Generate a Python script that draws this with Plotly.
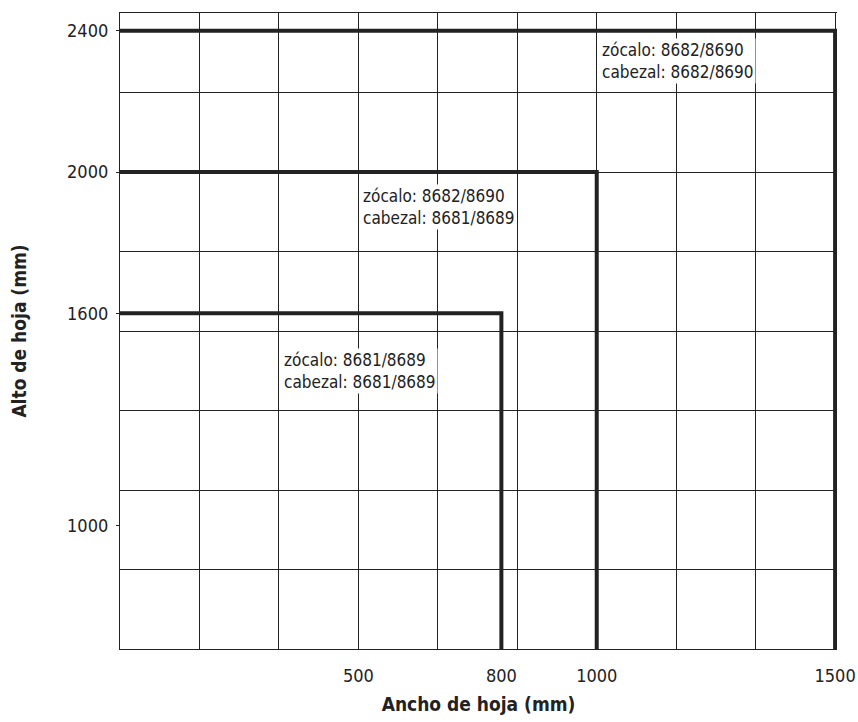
import plotly.graph_objects as go

# leaf sizes (mm) and the hardware codes for each
anchos = [800, 1000, 1500]
altos = [1600, 2000, 2400]
zocalo = ["8681/8689", "8682/8690", "8682/8690"]
cabezal = ["8681/8689", "8681/8689", "8682/8690"]

x_ticks = [500, 800, 1000, 1500]
y_ticks = [1000, 1600, 2000, 2400]

# axis layout
x_range = [0, 1504]
y_range = [650, 2450]
grid_x = 1500 / 9
grid_y = 225

# where the text boxes sit (data units)
label_x = [1500 / 9 * 2, 500, 1000]
label_y = [1438, 1900, 2313]

FONT = "DejaVu Sans Condensed, Liberation Sans, sans-serif"
INK = "#222222"

fig = go.Figure()

for w, h in zip(anchos, altos):
    fig.add_trace(go.Scatter(
        x=[0, w, w],
        y=[h, h, y_range[0]],
        mode="lines",
        line=dict(color=INK, width=4),
        hoverinfo="skip",
        showlegend=False,
    ))

for i in range(len(anchos)):
    fig.add_annotation(
        x=label_x[i], y=label_y[i],
        xref="x", yref="y",
        xanchor="left", yanchor="middle",
        align="left",
        text=f"zócalo: {zocalo[i]}<br>cabezal: {cabezal[i]}",
        showarrow=False,
        bgcolor="white",
        borderpad=1,
        xshift=3,
        font=dict(family=FONT, size=17, color=INK),
    )

fig.update_xaxes(
    range=x_range, automargin=False,
    tickmode="array", tickvals=x_ticks, ticktext=[str(v) for v in x_ticks],
    showgrid=False, zeroline=False,
    showline=True, mirror=True, linecolor=INK, linewidth=1.3,
    ticks="", ticklabelstandoff=10,
    tickfont=dict(family=FONT, size=18, color=INK),
    minor=dict(tick0=0, dtick=grid_x, showgrid=True,
               gridcolor=INK, gridwidth=1.3, ticks=""),
    title=dict(text="<b>Ancho de hoja (mm)</b>", standoff=12,
               font=dict(family=FONT, size=19, color=INK)),
)
fig.update_yaxes(
    range=y_range, automargin=False,
    tickmode="array", tickvals=y_ticks, ticktext=[str(v) for v in y_ticks],
    showgrid=False, zeroline=False,
    showline=True, linecolor=INK, linewidth=1.3,
    ticks="outside", ticklen=3, tickwidth=1.3, tickcolor=INK,
    ticklabelstandoff=4,
    tickfont=dict(family=FONT, size=18, color=INK),
    minor=dict(tick0=2000, dtick=grid_y, showgrid=True,
               gridcolor=INK, gridwidth=1.3, ticks=""),
    title=dict(text="<b>Alto de hoja (mm)</b>", standoff=35,
               font=dict(family=FONT, size=19, color=INK)),
)

fig.update_layout(
    width=858, height=722,
    margin=dict(l=120, r=21, t=13, b=73),
    plot_bgcolor="white", paper_bgcolor="white",
    font=dict(family=FONT, color=INK),
)

# drop the page's default body margin so the figure fills the window
fig.write_html("out.html", config={"displayModeBar": False},
               post_script="document.body.style.margin='0';")
